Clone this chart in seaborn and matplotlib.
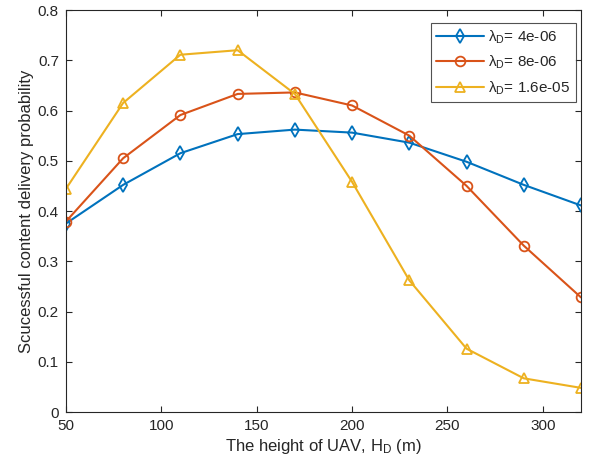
import matplotlib
matplotlib.use("Agg")
import matplotlib.pyplot as plt
import seaborn as sns
import pandas as pd

# UAV height (m)
heights = [50, 80, 110, 140, 170, 200, 230, 260, 290, 320]

# Successful content delivery probability for each UAV density
p_4e6 = [0.375, 0.452, 0.515, 0.553, 0.562, 0.556, 0.536, 0.498, 0.452, 0.411]
p_8e6 = [0.379, 0.505, 0.591, 0.633, 0.636, 0.610, 0.550, 0.450, 0.331, 0.228]
p_16e6 = [0.444, 0.615, 0.711, 0.720, 0.633, 0.458, 0.262, 0.126, 0.067, 0.048]

labels = [r"$\mathregular{\lambda_D}$= 4e-06",
          r"$\mathregular{\lambda_D}$= 8e-06",
          r"$\mathregular{\lambda_D}$= 1.6e-05"]
colors = ["#0072BD", "#D95319", "#EDB120"]
markers = ["d", "o", "^"]
msizes = [7.5, 7.0, 7.5]

sns.set_theme(style="ticks")
plt.rcParams["font.family"] = ["Liberation Sans", "DejaVu Sans"]
plt.rcParams["mathtext.fontset"] = "custom"
plt.rcParams["mathtext.rm"] = "Liberation Sans"
plt.rcParams["mathtext.it"] = "Liberation Sans:italic"

fig = plt.figure(figsize=(5.99, 4.70), dpi=100)
ax = fig.add_axes([0.110, 0.1234, 0.860, 0.8553])

series = [p_4e6, p_8e6, p_16e6]
for vals, lab, col, mk, ms in zip(series, labels, colors, markers, msizes):
    df = pd.DataFrame({"h": heights, "p": vals})
    sns.lineplot(data=df, x="h", y="p", ax=ax, color=col, marker=mk,
                 markersize=ms, markerfacecolor="none", markeredgecolor=col,
                 markeredgewidth=1.3, linewidth=1.5, label=lab)

ax.set_xlim(50, 320)
ax.set_ylim(0, 0.8)
ax.set_xticks([50, 100, 150, 200, 250, 300])
ax.set_yticks([0, 0.1, 0.2, 0.3, 0.4, 0.5, 0.6, 0.7, 0.8])
ax.set_yticklabels(["0", "0.1", "0.2", "0.3", "0.4", "0.5", "0.6", "0.7", "0.8"])

edge = "#262626"
for s in ax.spines.values():
    s.set_color(edge)
    s.set_linewidth(0.8)
ax.tick_params(direction="in", top=True, right=True, length=4, width=0.8,
               color=edge, labelcolor=edge, labelsize=11, pad=5)

ax.set_xlabel(r"The height of UAV, $\mathregular{H_D}$ (m)", fontsize=12, color=edge, labelpad=3)
ax.set_ylabel("Scucessful content delivery probability", fontsize=12, color=edge, labelpad=3)

leg = ax.legend(loc="upper right", bbox_to_anchor=(0.990, 0.968), fontsize=11,
                frameon=True, fancybox=False, edgecolor=edge, borderaxespad=0.0,
                handlelength=3.1, handletextpad=0.3, labelspacing=0.53,
                borderpad=0.35)
leg.get_frame().set_linewidth(0.8)

fig.savefig("out.png", dpi=100)
